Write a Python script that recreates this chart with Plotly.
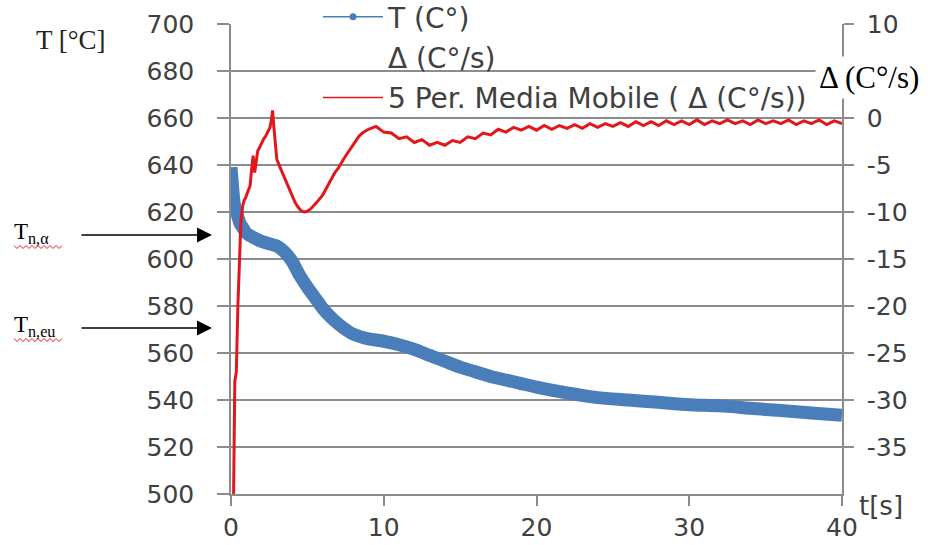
import plotly.graph_objects as go

# Temperature T (°C) versus time t (s)
t_time = [0.0, 0.1, 0.2, 0.4, 0.6, 0.8, 1.0, 1.5, 2.0, 2.5, 3.0, 3.5, 4.0, 4.5,
          5.0, 5.5, 6.0, 6.5, 7.0, 7.5, 8.0, 9.0, 10.0, 11.0, 12.0, 13.0, 14.0,
          15.0, 16.0, 17.0, 18.0, 19.0, 20.0, 22.0, 24.0, 26.0, 28.0, 30.0,
          32.0, 34.0, 36.0, 38.0, 40.0]
t_temp = [639, 631, 624, 619, 615, 613, 611, 609, 607.5, 606.5, 605.5, 603,
          599, 593, 588, 583.5, 579, 575.5, 572.5, 570, 568, 566, 565, 563.5,
          561.5, 559, 556.5, 554, 552, 550, 548.5, 547, 545.5, 543, 541, 540,
          539, 538, 537.5, 536.5, 535.5, 534.5, 533.5]

# 5-period moving average of the cooling rate (°C/s)
ma_time = [0.10, 0.17, 0.25, 0.35, 0.45, 0.55, 0.65, 0.75, 0.85, 0.95, 1.05,
           1.15, 1.25, 1.35, 1.45, 1.55, 1.65, 1.75, 1.85, 1.95, 2.05, 2.15,
           2.25, 2.35, 2.45, 2.55, 2.65, 2.72, 2.80, 2.90, 3.0, 3.2, 3.4, 3.6,
           3.8, 4.0, 4.2, 4.4, 4.6, 4.8, 5.0, 5.2, 5.4, 5.6, 5.8, 6.0, 6.2,
           6.4, 6.6, 6.8, 7.0, 7.2, 7.4, 7.6, 7.8, 8.0, 8.2, 8.4, 8.6, 8.8,
           9.0, 9.5, 10.0, 10.5, 11.0, 11.5, 12.0, 12.5, 13.0, 13.5, 14.0,
           14.5, 15.0, 15.5, 16.0, 16.5, 17.0, 17.5, 18.0, 18.5, 19.0, 19.5,
           20.0, 20.5, 21.0, 21.5, 22.0, 22.5, 23.0, 23.5, 24.0, 24.5, 25.0,
           25.5, 26.0, 26.5, 27.0, 27.5, 28.0, 28.5, 29.0, 29.5, 30.0, 30.5,
           31.0, 31.5, 32.0, 32.5, 33.0, 33.5, 34.0, 34.5, 35.0, 35.5, 36.0,
           36.5, 37.0, 37.5, 38.0, 38.5, 39.0, 39.5, 40.0]
ma_rate = [-45, -40, -28, -27, -20, -15, -11, -9.5, -8.8, -8.5, -8.0, -7.6,
           -7.2, -5.5, -4.0, -5.8, -4.5, -3.5, -3.2, -2.8, -2.5, -2.2, -2.0,
           -1.6, -1.3, -1.0, -0.2, 0.8, -0.8, -2.8, -4.4, -5.2, -6.0, -6.8,
           -7.6, -8.4, -9.0, -9.5, -9.9, -10.0, -9.9, -9.7, -9.4, -9.0, -8.6,
           -8.2, -7.6, -7.0, -6.4, -5.8, -5.4, -4.8, -4.3, -3.8, -3.3, -2.8,
           -2.3, -1.9, -1.6, -1.4, -1.2, -0.9, -1.5, -1.6, -2.2, -2.0, -2.6,
           -2.3, -2.9, -2.6, -2.9, -2.4, -2.6, -2.0, -2.2, -1.6, -1.8, -1.2,
           -1.5, -1.0, -1.3, -0.9, -1.3, -0.8, -1.2, -0.8, -1.1, -0.7, -1.1,
           -0.6, -1.0, -0.6, -0.9, -0.5, -0.9, -0.4, -0.8, -0.4, -0.8, -0.3,
           -0.7, -0.3, -0.7, -0.2, -0.7, -0.3, -0.6, -0.2, -0.6, -0.3, -0.7,
           -0.2, -0.6, -0.3, -0.6, -0.2, -0.7, -0.3, -0.6, -0.2, -0.7, -0.3,
           -0.6]

x_ticks = [0, 10, 20, 30, 40]
temp_ticks = [500, 520, 540, 560, 580, 600, 620, 640, 660, 680, 700]
rate_ticks = [10, 5, 0, -5, -10, -15, -20, -25, -30, -35]
# the "5" position sits under the Δ (C°/s) axis caption
rate_labels = ["10", "", "0", "-5", "-10", "-15", "-20", "-25", "-30", "-35"]

BLUE = "#4a7ebb"
RED = "#e3161c"
GRID = "#8c8c8c"
TICKFONT = dict(family="DejaVu Sans", size=25, color="#404040")

# plot-area geometry in pixels
W, H = 928, 545
L, R, T, B = 231, 86, 24, 51
PW, PH = W - L - R, H - T - B


def px(x):
    return (x - L) / PW


def py(y):
    return 1 - (y - T) / PH


fig = go.Figure()

# legend entries
fig.add_trace(go.Scatter(x=[None], y=[None], name="T (C°)", mode="lines+markers",
                         line=dict(color=BLUE, width=1.5), marker=dict(size=7, color=BLUE),
                         legendgroup="a"))
fig.add_trace(go.Scatter(x=[None], y=[None], name="Δ (C°/s)", mode="lines",
                         line=dict(color="rgba(0,0,0,0)", width=0), legendgroup="b"))
fig.add_trace(go.Scatter(x=[None], y=[None], name="5 Per. Media Mobile ( Δ (C°/s))",
                         mode="lines", line=dict(color=RED, width=1.5), legendgroup="c"))

# data
fig.add_trace(go.Scatter(x=t_time, y=t_temp, mode="lines", showlegend=False,
                         line=dict(color=BLUE, width=13, shape="spline", smoothing=0.6)))
fig.add_trace(go.Scatter(x=ma_time, y=ma_rate, mode="lines", showlegend=False, yaxis="y2",
                         line=dict(color=RED, width=3)))

fig.update_layout(
    width=W, height=H,
    margin=dict(l=L, r=R, t=T, b=B, pad=0, autoexpand=False),
    paper_bgcolor="white", plot_bgcolor="rgba(0,0,0,0)",
    xaxis=dict(range=[0, 40], tickvals=x_ticks, showgrid=False, zeroline=False,
               showline=True, linecolor=GRID, linewidth=1.5,
               ticks="outside", ticklen=10, tickcolor=GRID, tickwidth=1.5,
               tickfont=TICKFONT, automargin=False),
    yaxis=dict(range=[500, 700], tickvals=temp_ticks, showgrid=True, gridcolor=GRID,
               gridwidth=1.5, zeroline=False, showline=True, linecolor=GRID, linewidth=1.5,
               ticks="outside", ticklen=12, tickcolor=GRID, tickwidth=1.5,
               tickfont=TICKFONT, ticklabelstandoff=18, automargin=False),
    yaxis2=dict(range=[-40, 10], overlaying="y", side="right", tickvals=rate_ticks,
                ticktext=rate_labels, showgrid=False, zeroline=False, showline=True,
                linecolor=GRID, linewidth=1.5, ticks="outside", ticklen=10,
                tickcolor=GRID, tickwidth=1.5, tickfont=TICKFONT, ticklabelstandoff=8,
                automargin=False),
    legend=dict(x=px(318), y=py(-8), xanchor="left", yanchor="top",
                bgcolor="rgba(0,0,0,0)", font=dict(family="DejaVu Sans", size=28, color="#404040"),
                tracegroupgap=1, itemwidth=60),
    showlegend=True,
)

ann = []
ann.append(dict(x=px(71), y=py(40), xref="paper", yref="paper", text="T [°C]",
                xanchor="center", yanchor="middle", showarrow=False,
                font=dict(family="Liberation Serif", size=27, color="#222222")))
ann.append(dict(x=px(881), y=py(506), xref="paper", yref="paper", text="t[s]",
                xanchor="center", yanchor="middle", showarrow=False,
                font=dict(family="DejaVu Sans", size=26, color="#404040")))
ann.append(dict(x=px(869), y=py(77), xref="paper", yref="paper", text="Δ (C°/s)",
                xanchor="center", yanchor="middle", showarrow=False, bgcolor="white",
                borderpad=3, font=dict(family="Liberation Serif", size=31, color="black")))
# transformation-temperature markers
for label, yp in [("T<sub>n,α</sub>", 235), ("T<sub>n,eu</sub>", 328)]:
    ann.append(dict(x=px(212), y=py(yp), xref="paper", yref="paper", ax=-132, ay=0,
                    axref="pixel", ayref="pixel", text="", showarrow=True,
                    arrowhead=2, arrowsize=2, arrowwidth=1.5, arrowcolor="black"))
    ann.append(dict(x=px(12), y=py(yp - 2), xref="paper", yref="paper", text=label,
                    xanchor="left", yanchor="middle", showarrow=False,
                    font=dict(family="Liberation Serif", size=23, color="black")))
fig.update_layout(annotations=ann)

# red spell-check squiggles under the markers
shapes = []
for yp in (247, 340):
    pts = []
    x = 14
    up = True
    while x <= 64:
        pts.append((x, yp - 1.5 if up else yp + 1.5))
        up = not up
        x += 3
    path = "M " + " L ".join(f"{px(a):.5f},{py(b):.5f}" for a, b in pts)
    shapes.append(dict(type="path", path=path, xref="paper", yref="paper",
                       line=dict(color="#e02020", width=1)))
fig.update_layout(shapes=shapes)

fig.write_html("out.html")
